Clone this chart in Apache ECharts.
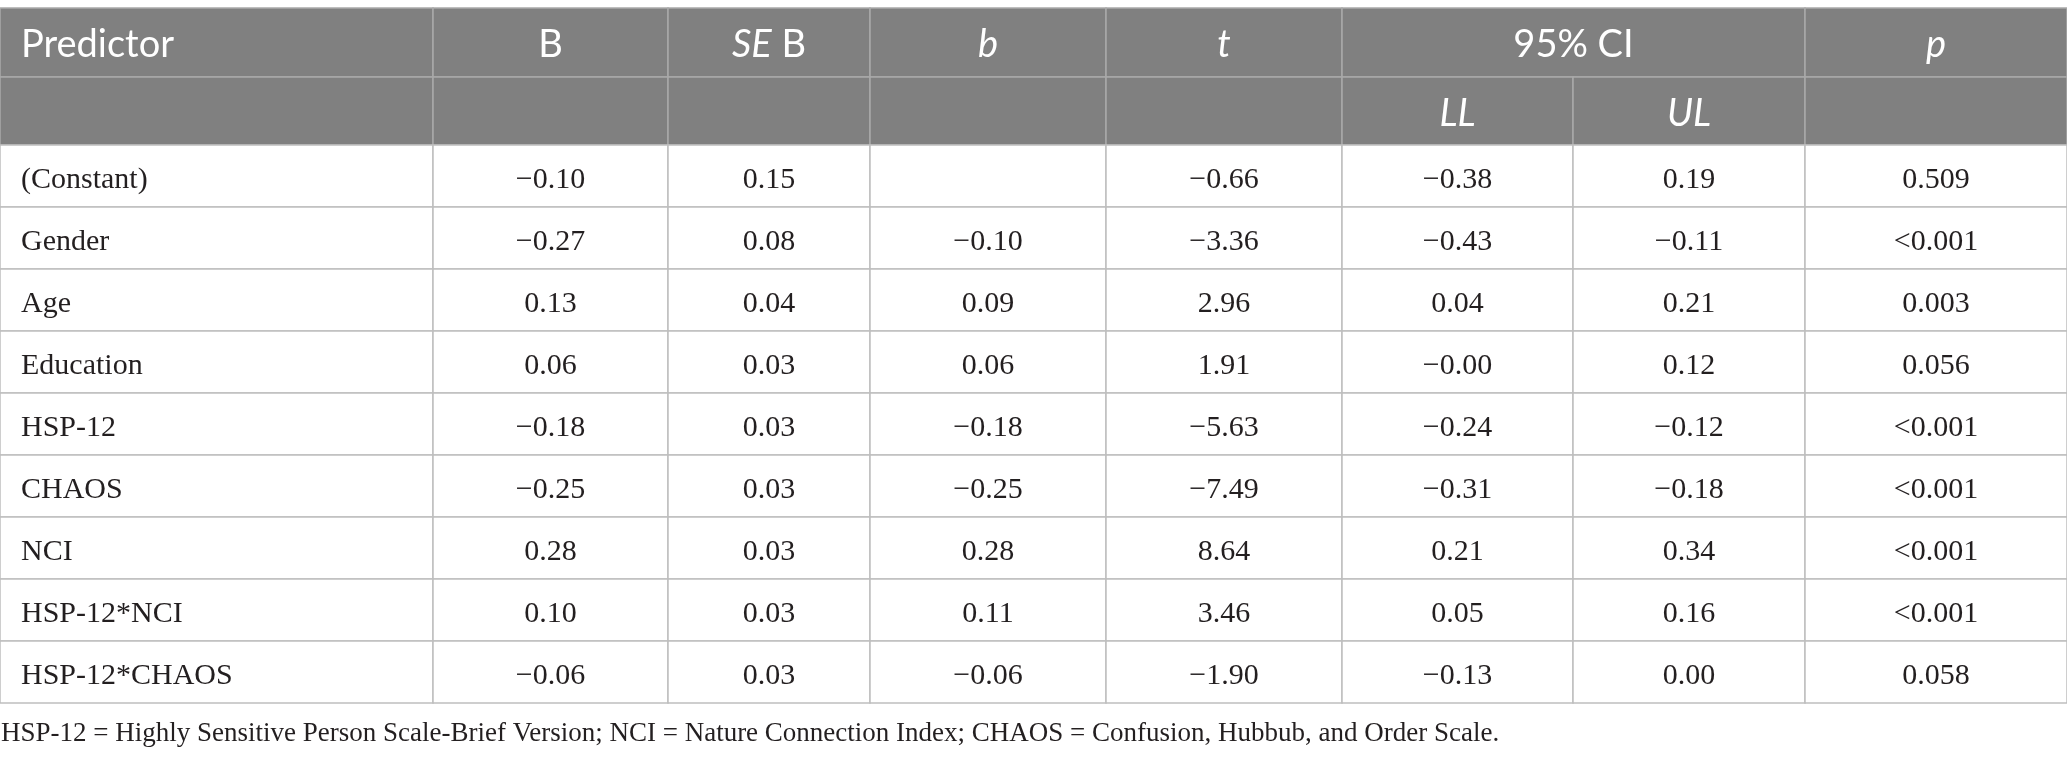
<!DOCTYPE html>
<html>
<head>
<meta charset="utf-8">
<script src="https://cdn.jsdelivr.net/npm/echarts@6/dist/echarts.min.js"></script>
<style>
  html, body { margin: 0; padding: 0; background: #fff; }
  #main { width: 2067px; height: 759px; }
</style>
</head>
<body>
<div id="main"></div>
<script>
// table values
var predictors = ['(Constant)', 'Gender', 'Age', 'Education', 'HSP-12', 'CHAOS', 'NCI', 'HSP-12*NCI', 'HSP-12*CHAOS'];
var colB = ['−0.10', '−0.27', '0.13', '0.06', '−0.18', '−0.25', '0.28', '0.10', '−0.06'];
var colSEB = ['0.15', '0.08', '0.04', '0.03', '0.03', '0.03', '0.03', '0.03', '0.03'];
var colBeta = ['', '−0.10', '0.09', '0.06', '−0.18', '−0.25', '0.28', '0.11', '−0.06'];
var colT = ['−0.66', '−3.36', '2.96', '1.91', '−5.63', '−7.49', '8.64', '3.46', '−1.90'];
var colLL = ['−0.38', '−0.43', '0.04', '−0.00', '−0.24', '−0.31', '0.21', '0.05', '−0.13'];
var colUL = ['0.19', '−0.11', '0.21', '0.12', '−0.12', '−0.18', '0.34', '0.16', '0.00'];
var colP = ['0.509', '<0.001', '0.003', '0.056', '<0.001', '<0.001', '<0.001', '<0.001', '0.058'];

var headerTop = ['Predictor', 'B', 'SE B', 'b', 't', '95% CI', 'p'];
var headerTopSpan = [1, 1, 1, 1, 1, 2, 1];
var headerSub = ['', '', '', '', '', 'LL', 'UL', ''];
var footnote = 'HSP-12 = Highly Sensitive Person Scale-Brief Version; NCI = Nature Connection Index; CHAOS = Confusion, Hubbub, and Order Scale.';

// layout (axis units)
var colWidths = [433, 235, 202, 236, 236, 231, 232, 262];
var rowHeights = [69, 68, 62, 62, 62, 62, 62, 62, 62, 62, 62];
var tableTop = 8;

var colEdges = [0];
colWidths.forEach(function (w, i) { colEdges.push(colEdges[i] + w); });
var rowEdges = [tableTop];
rowHeights.forEach(function (h, i) { rowEdges.push(rowEdges[i] + h); });

var sansFont = 'Lato';
var serifFont = 'Liberation Serif';

function headerRich (label) { // italic statistic symbols
  if (label === 'SE B') return '{i|SE}{n| B}';
  if (['b', 't', 'p', 'LL', 'UL'].indexOf(label) >= 0) return '{i|' + label + '}';
  return '{n|' + label + '}';
}

// build cell list: [col, row, span] + text
var cells = [];
var c = 0;
headerTop.forEach(function (h, i) {
  cells.push({ col: c, row: 0, span: headerTopSpan[i], text: h, head: true });
  c += headerTopSpan[i];
});
headerSub.forEach(function (h, i) {
  cells.push({ col: i, row: 1, span: 1, text: h, head: true });
});
var bodyCols = [predictors, colB, colSEB, colBeta, colT, colLL, colUL, colP];
predictors.forEach(function (p, r) {
  bodyCols.forEach(function (arr, ci) {
    cells.push({ col: ci, row: r + 2, span: 1, text: arr[r], head: false });
  });
});

function renderCell (params, api) {
  var cell = cells[params.dataIndex];
  var col = api.value(0), row = api.value(1), span = api.value(2);
  var p0 = api.coord([colEdges[col], rowEdges[row]]);
  var p1 = api.coord([colEdges[col + span], rowEdges[row + 1]]);
  var left = col === 0;
  var tx = left ? p0[0] + 21 : (p0[0] + p1[0]) / 2;
  var ty = (p0[1] + p1[1]) / 2 + (cell.head ? 2.5 : 4);
  var textStyle;
  if (cell.head) {
    textStyle = {
      x: tx, y: ty,
      text: cell.text ? headerRich(cell.text) : '',
      align: left ? 'left' : 'center',
      verticalAlign: 'middle',
      rich: {
        n: { fontFamily: sansFont, fontSize: 38, fill: '#fff' },
        i: { fontFamily: sansFont, fontSize: 38, fontStyle: 'italic', fill: '#fff' }
      }
    };
  } else {
    textStyle = {
      x: tx, y: ty,
      text: cell.text,
      align: left ? 'left' : 'center',
      verticalAlign: 'middle',
      fontFamily: serifFont,
      fontSize: 30,
      fill: '#231f20'
    };
  }
  return {
    type: 'group',
    children: [{
      type: 'rect',
      shape: { x: p0[0], y: p0[1], width: p1[0] - p0[0], height: p1[1] - p0[1] },
      style: cell.head
        ? { fill: '#808080', stroke: '#a9a9a9', lineWidth: 1.5 }
        : { fill: '#fff', stroke: '#bebebe', lineWidth: 1.5 }
    }, {
      type: 'text',
      style: textStyle
    }]
  };
}

var myChart = echarts.init(document.getElementById('main'));

var option = {
  animation: false,
  backgroundColor: '#fff',
  title: {
    text: footnote,
    left: 1,
    top: 720,
    padding: 0,
    textStyle: { fontFamily: serifFont, fontSize: 27, fontWeight: 'normal', color: '#231f20' }
  },
  grid: { left: 0, right: 0, top: 0, bottom: 0 },
  xAxis: { type: 'value', min: 0, max: colEdges[colEdges.length - 1], show: false },
  yAxis: { type: 'value', min: 0, max: 759, inverse: true, show: false },
  series: [{
    type: 'custom',
    renderItem: renderCell,
    encode: { x: 0, y: 1 },
    data: cells.map(function (cl) { return [cl.col, cl.row, cl.span]; })
  }]
};

myChart.setOption(option);
</script>
</body>
</html>
